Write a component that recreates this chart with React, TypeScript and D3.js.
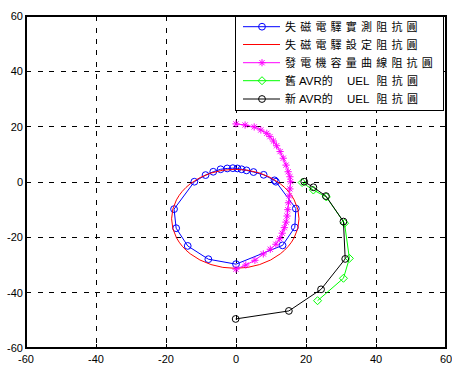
import React from "react";
import * as d3 from "d3";

const xTicks = [-60, -40, -20, 0, 20, 40, 60];
const yTicks = [-60, -40, -20, 0, 20, 40, 60];

// 失磁電驛實測阻抗圓 (blue, circles)
const blueX = [0, -7.9, -13.8, -17.1, -17.7, -11.9, -8.7, -6.5, -4.4, -2.5, -0.9, 0.4, 1.6, 3.0, 5.0, 7.9, 11.0, 11.4, 17.1, 16.8, 13.3, 0];
const blueY = [-29.7, -27.9, -23.1, -16.7, -9.8, 0.1, 2.5, 3.7, 4.6, 4.9, 5.0, 4.9, 4.6, 4.2, 3.6, 2.6, 0.6, 0.1, -9.6, -16.4, -22.9, -29.7];

// 失磁電驛設定阻抗圓 (red circle): center and radius
const redCenter = [-0.2, -13.3];
const redRadius = [18.2, 17.9];

// 發電機容量曲線阻抗圓 (magenta, stars)
const magX = [0, 2.6, 5.2, 7.1, 8.8, 9.7, 10.7, 11.6, 12.6, 13.5, 14.3, 14.9, 15.4, 15.6, 15.4, 15.2, 15.0, 14.8, 14.6, 14.3, 13.8, 13.2, 12.5, 11.4, 9.8, 7.8, 5.4, 2.8, 0];
const magY = [21, 20.6, 19.9, 18.8, 17.6, 16.4, 14.8, 13.1, 11, 8.6, 6.1, 3.7, 1.9, 0.1, -2.5, -5, -7.5, -10, -12.3, -14.5, -16.5, -18.5, -20.5, -22.5, -24.3, -26, -28.3, -30, -31.5];

// 舊 AVR的 UEL 阻抗圓 (green, diamonds)
const greenX = [18.9, 22.1, 25.8, 31.0, 32.4, 30.7, 23.3];
const greenY = [-0.2, -2.9, -5.4, -14.9, -27.6, -34.8, -42.9];

// 新 AVR的 UEL 阻抗圓 (black, circles)
const blackX = [19.5, 22.1, 25.7, 30.7, 31.2, 24.3, 15.1, -0.1];
const blackY = [0.1, -1.9, -5.1, -14.3, -27.8, -38.8, -46.6, -49.5];

const legendLabels = ["失磁電驛實測阻抗圓", "失磁電驛設定阻抗圓", "發電機容量曲線阻抗圓"];

const W = 452, H = 368;
const x = d3.scaleLinear().domain([-60, 60]).range([26, 446]);
const y = d3.scaleLinear().domain([-60, 60]).range([348, 16]);

const zip = (a: number[], b: number[]) => a.map((v, i) => [v, b[i]] as [number, number]);
const line = d3.line<[number, number]>().x(d => x(d[0])).y(d => y(d[1]));

const cjk = "'Noto Sans CJK TC', 'Liberation Sans', sans-serif";
const latin = "'Liberation Sans', Arial, sans-serif";

function Circle({ cx, cy, color }: { cx: number; cy: number; color: string }) {
  return <circle cx={cx} cy={cy} r={3.4} fill="none" stroke={color} strokeWidth={1} />;
}
function Diamond({ cx, cy, color }: { cx: number; cy: number; color: string }) {
  const s = 4;
  return <path d={`M${cx},${cy - s}L${cx + s},${cy}L${cx},${cy + s}L${cx - s},${cy}Z`} fill="none" stroke={color} strokeWidth={1} />;
}
function Star({ cx, cy, color }: { cx: number; cy: number; color: string }) {
  const s = 3.6, d = 2.6;
  return (
    <path
      d={`M${cx - s},${cy}L${cx + s},${cy}M${cx},${cy - s}L${cx},${cy + s}M${cx - d},${cy - d}L${cx + d},${cy + d}M${cx - d},${cy + d}L${cx + d},${cy - d}`}
      stroke={color}
      strokeWidth={1}
    />
  );
}

export default function App() {
  const blue = zip(blueX, blueY);
  const mag = zip(magX, magY);
  const green = zip(greenX, greenY);
  const black = zip(blackX, blackY);
  const [x0, x1] = x.range();
  const [y0, y1] = y.range();
  const lx0 = 243, lx1 = 280, lmx = 262, ltx = 285;
  const rows = [26.7, 44.5, 62.7, 80.7, 99];
  const ls = 4.2;

  return (
    <svg width={W} height={H} style={{ position: "fixed", left: 0, top: 0, background: "#fff" }}>
      <rect x={0} y={0} width={W} height={H} fill="#fff" />
      {/* grid */}
      <g stroke="#000" strokeWidth={1} strokeDasharray="5,6.5" shapeRendering="crispEdges">
        {xTicks.slice(1, -1).map(t => (
          <line key={"gx" + t} x1={x(t)} x2={x(t)} y1={y1} y2={y0} />
        ))}
        {yTicks.slice(1, -1).map(t => (
          <line key={"gy" + t} x1={x0} x2={x1} y1={y(t)} y2={y(t)} />
        ))}
      </g>
      {/* axis box */}
      <rect x={x0} y={y1} width={x1 - x0} height={y0 - y1} fill="none" stroke="#000" strokeWidth={1.2} shapeRendering="crispEdges" />
      <g stroke="#000" strokeWidth={1} shapeRendering="crispEdges">
        {xTicks.map(t => (
          <g key={"tx" + t}>
            <line x1={x(t)} x2={x(t)} y1={y0} y2={y0 - 4} />
            <line x1={x(t)} x2={x(t)} y1={y1} y2={y1 + 4} />
          </g>
        ))}
        {yTicks.map(t => (
          <g key={"ty" + t}>
            <line x1={x0} x2={x0 + 4} y1={y(t)} y2={y(t)} />
            <line x1={x1} x2={x1 - 4} y1={y(t)} y2={y(t)} />
          </g>
        ))}
      </g>
      <g fontFamily={latin} fontSize={11} fill="#000">
        {xTicks.map(t => (
          <text key={"lx" + t} x={x(t)} y={363} textAnchor="middle">{t}</text>
        ))}
        {yTicks.map(t => (
          <text key={"ly" + t} x={23} y={y(t) + 4} textAnchor="end">{t}</text>
        ))}
      </g>

      {/* blue measured */}
      <path d={line(blue) || ""} fill="none" stroke="#0000ff" strokeWidth={1} />
      {blue.slice(0, -1).map((d, i) => <Circle key={"b" + i} cx={x(d[0])} cy={y(d[1])} color="#0000ff" />)}
      {/* red setting circle */}
      <ellipse
        cx={x(redCenter[0])}
        cy={y(redCenter[1])}
        rx={x(redRadius[0]) - x(0)}
        ry={y(0) - y(redRadius[1])}
        fill="none"
        stroke="#ff0000"
        strokeWidth={1}
      />
      {/* magenta capability */}
      <path d={line(mag) || ""} fill="none" stroke="#ff00ff" strokeWidth={1} />
      {mag.map((d, i) => <Star key={"m" + i} cx={x(d[0])} cy={y(d[1])} color="#ff00ff" />)}
      {/* green old UEL */}
      <path d={line(green) || ""} fill="none" stroke="#00ff00" strokeWidth={1} />
      {green.map((d, i) => <Diamond key={"g" + i} cx={x(d[0])} cy={y(d[1])} color="#00ff00" />)}
      {/* black new UEL */}
      <path d={line(black) || ""} fill="none" stroke="#000" strokeWidth={1} />
      {black.map((d, i) => <Circle key={"k" + i} cx={x(d[0])} cy={y(d[1])} color="#000" />)}

      {/* legend */}
      <rect x={235} y={16} width={208} height={94} fill="#fff" stroke="#000" strokeWidth={1} shapeRendering="crispEdges" />
      <g strokeWidth={1}>
        <line x1={lx0} x2={lx1} y1={rows[0]} y2={rows[0]} stroke="#0000ff" />
        <Circle cx={lmx} cy={rows[0]} color="#0000ff" />
        <line x1={lx0} x2={lx1} y1={rows[1]} y2={rows[1]} stroke="#ff0000" />
        <line x1={lx0} x2={lx1} y1={rows[2]} y2={rows[2]} stroke="#ff00ff" />
        <Star cx={lmx} cy={rows[2]} color="#ff00ff" />
        <line x1={lx0} x2={lx1} y1={rows[3]} y2={rows[3]} stroke="#00ff00" />
        <Diamond cx={lmx} cy={rows[3]} color="#00ff00" />
        <line x1={lx0} x2={lx1} y1={rows[4]} y2={rows[4]} stroke="#000" />
        <Circle cx={lmx} cy={rows[4]} color="#000" />
      </g>
      <g fontFamily={cjk} fontSize={11} fill="#000">
        {legendLabels.map((s, i) => (
          <text key={"lg" + i} x={ltx} y={rows[i] + 4} letterSpacing={ls}>{s}</text>
        ))}
        {["舊", "新"].map((c, j) => {
          const yy = rows[3 + j] + 4;
          return (
            <text key={"lgu" + j} y={yy}>
              <tspan x={ltx}>{c}</tspan>
              <tspan x={299} fontFamily={latin} fontSize={11.5}>AVR</tspan>
              <tspan>的</tspan>
              <tspan x={347} fontFamily={latin} fontSize={11.5}>UEL</tspan>
              <tspan x={376.5} letterSpacing={ls}>阻抗圓</tspan>
            </text>
          );
        })}
      </g>
    </svg>
  );
}
